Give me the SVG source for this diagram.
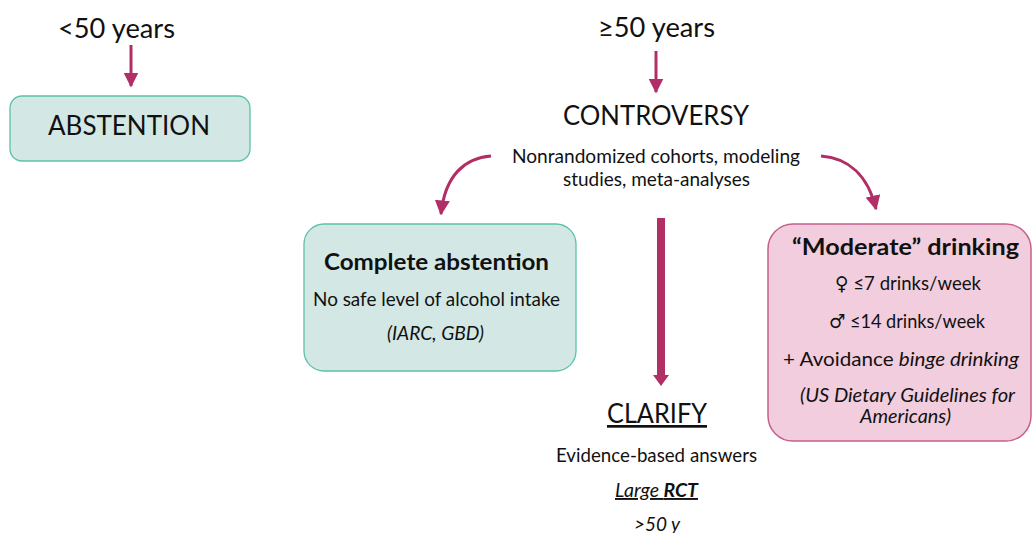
<svg xmlns="http://www.w3.org/2000/svg" width="1033" height="533" viewBox="0 0 1033 533">
<style>
text{font-family:Lato,"Open Sans","Liberation Sans",sans-serif;fill:#111;text-anchor:middle}
.big{font-size:27px}
.mid{font-size:19px}
.b{font-weight:bold}
.i{font-style:italic}
.sym{font-family:"DejaVu Sans",sans-serif;font-size:19px}
.teal{fill:#D3E8E5;stroke:#5CC0A8;stroke-width:1.3}
.pink{fill:#F1CDDD;stroke:#C65F8C;stroke-width:1.5}
.arr{fill:none;stroke:#B12E66;stroke-width:3}
.thick{fill:none;stroke:#B12E66;stroke-width:8}
</style>
<defs>
<marker id="ah" viewBox="0 0 10 10" refX="9" refY="5" markerWidth="5" markerHeight="5" markerUnits="strokeWidth" orient="auto">
<path d="M0,0 L10,5 L0,10 z" fill="#B12E66"/>
</marker>
</defs>
<g id="connectors">
<path class="arr" d="M131,45 L131,86" marker-end="url(#ah)"/>
<path class="arr" d="M656,51 L656,92" marker-end="url(#ah)"/>
<path class="arr" d="M491,156 C465,158 445,175 441,214" marker-end="url(#ah)"/>
<path class="arr" d="M821,156 C848,158 868,175 876,209" marker-end="url(#ah)"/>
<path class="thick" d="M661,218 L661,376"/>
<path d="M653,375 L669,375 L661,386 z" fill="#B12E66"/>
</g>
<g id="lt50">
<text class="big" x="116.5" y="38" textLength="117" lengthAdjust="spacingAndGlyphs">&lt;50 years</text>
</g>
<g id="abstention">
<rect class="teal" x="10" y="96" width="240" height="65" rx="12"/>
<text class="big" x="129" y="135" textLength="162" lengthAdjust="spacingAndGlyphs">ABSTENTION</text>
</g>
<g id="ge50">
<text class="big" x="656.5" y="37" textLength="117" lengthAdjust="spacingAndGlyphs">≥50 years</text>
</g>
<g id="controversy">
<text class="big" x="656" y="125" textLength="186" lengthAdjust="spacingAndGlyphs">CONTROVERSY</text>
<text class="mid" x="656" y="163" textLength="288" lengthAdjust="spacingAndGlyphs">Nonrandomized cohorts, modeling</text>
<text class="mid" x="656.5" y="186" textLength="187" lengthAdjust="spacingAndGlyphs">studies, meta-analyses</text>
</g>
<g id="complete">
<rect class="teal" x="304" y="224" width="272" height="147" rx="20"/>
<text class="b" x="436.5" y="270" font-size="22" textLength="225" lengthAdjust="spacingAndGlyphs">Complete abstention</text>
<text class="mid" x="436.5" y="306" textLength="247" lengthAdjust="spacingAndGlyphs">No safe level of alcohol intake</text>
<text class="mid i" x="435.5" y="340" textLength="97" lengthAdjust="spacingAndGlyphs">(IARC, GBD)</text>
</g>
<g id="moderate">
<rect class="pink" x="768" y="224" width="263" height="217" rx="25"/>
<text class="b" x="905.5" y="255" font-size="23" textLength="227" lengthAdjust="spacingAndGlyphs">“Moderate” drinking</text>
<text class="mid" x="908" y="290" textLength="146" lengthAdjust="spacingAndGlyphs"><tspan class="sym">♀</tspan> ≤7 drinks/week</text>
<text class="mid" x="907" y="328" textLength="156" lengthAdjust="spacingAndGlyphs"><tspan class="sym">♂</tspan> ≤14 drinks/week</text>
<text class="mid" x="901" y="366" textLength="236" lengthAdjust="spacingAndGlyphs">+ Avoidance <tspan class="i">binge drinking</tspan></text>
<text class="mid i" x="907.5" y="402" textLength="215" lengthAdjust="spacingAndGlyphs">(US Dietary Guidelines for</text>
<text class="mid i" x="905.5" y="423" textLength="91" lengthAdjust="spacingAndGlyphs">Americans)</text>
</g>
<g id="clarify">
<text class="big" x="657" y="423" text-decoration="underline" textLength="100" lengthAdjust="spacingAndGlyphs">CLARIFY</text>
<text class="mid" x="656.5" y="462" textLength="201" lengthAdjust="spacingAndGlyphs">Evidence-based  answers</text>
<text class="mid i" x="656.5" y="497" text-decoration="underline" textLength="83" lengthAdjust="spacingAndGlyphs">Large <tspan class="b">RCT</tspan></text>
<text class="mid i" x="657" y="531" textLength="46" lengthAdjust="spacingAndGlyphs">&gt;50 y</text>
</g>
</svg>
